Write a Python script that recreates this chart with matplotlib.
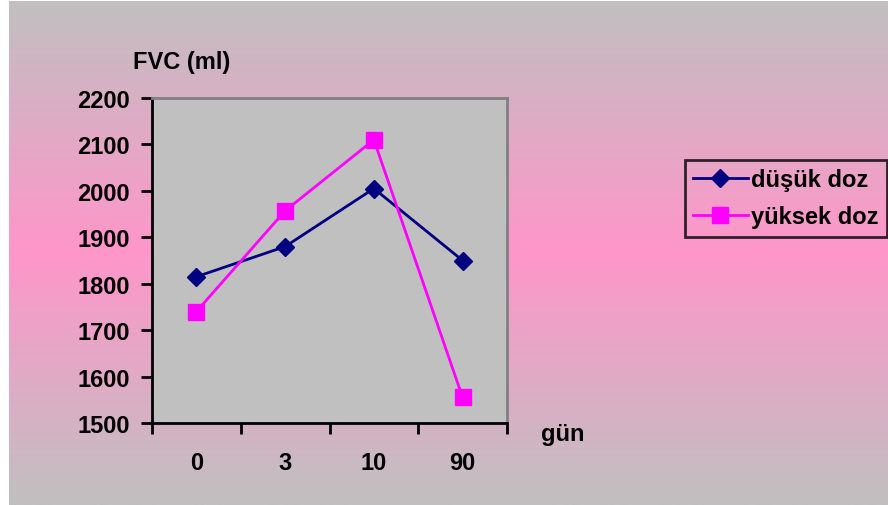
import numpy as np
import matplotlib
matplotlib.use("Agg")
import matplotlib.pyplot as plt
from matplotlib.lines import Line2D

plt.rcParams['font.family'] = ['Liberation Sans', 'DejaVu Sans']
plt.rcParams['font.weight'] = 'bold'

# FVC values per day
days = ['0', '3', '10', '90']
dusuk_doz = [1815, 1880, 2005, 1850]
yuksek_doz = [1740, 1957, 2110, 1555]
y_ticks = [1500, 1600, 1700, 1800, 1900, 2000, 2100, 2200]

W, H = 888, 506
fs = 17
fig = plt.figure(figsize=(W / 100, H / 100), dpi=100)

# background: gray -> pink -> gray vertical gradient, white strip on the left
gray = np.array([192, 192, 192]) / 255
pink = np.array([255, 150, 202]) / 255
t = np.abs(np.linspace(-1, 1, H))[:, None]
col = pink[None, :] * (1 - t) + gray[None, :] * t
bg = np.repeat(col[:, None, :], W, axis=1)
bg[:, :9] = 1.0
bg[:2, :] = 1.0
bax = fig.add_axes([0, 0, 1, 1], zorder=-10)
bax.imshow(bg, aspect='auto', extent=[0, W, H, 0])
bax.axis('off')

ax = fig.add_axes([152 / W, 1 - 424 / H, (507 - 152) / W, (424 - 99) / H])
ax.set_facecolor('#C0C0C0')
x = np.arange(len(days))
ax.plot(x, dusuk_doz, color='#000080', lw=2, marker='D', ms=9.5,
        mfc='#000080', mec='#000080', zorder=3)
ax.plot(x, yuksek_doz, color='#FF00FF', lw=2, marker='s', ms=11.5,
        mfc='#FF00FF', mec='#FF00FF', zorder=3)

ax.set_xlim(-0.5, 3.5)
ax.set_ylim(1500, 2200)
ax.set_yticks(y_ticks)
ax.set_yticklabels([str(v) for v in y_ticks])
ax.set_xticks(np.arange(-0.5, 4, 1))
ax.set_xticklabels([])
ax.set_xticks(x, minor=True)
ax.set_xticklabels(days, minor=True)
ax.tick_params(axis='x', which='major', direction='out', length=8, width=2)
ax.tick_params(axis='x', which='minor', length=0, pad=20, labelsize=fs)
ax.tick_params(axis='y', direction='out', length=8, width=2, pad=8, labelsize=fs)

for s in ['left', 'bottom']:
    ax.spines[s].set_color('black')
    ax.spines[s].set_linewidth(2)
for s in ['top', 'right']:
    ax.spines[s].set_color('#808080')
    ax.spines[s].set_linewidth(2)

fig.text(133 / W, 1 - 62 / H, 'FVC (ml)', fontsize=fs, fontweight='bold',
         ha='left', va='center')
fig.text(541 / W, 1 - 434 / H, 'gün', fontsize=fs, fontweight='bold',
         ha='left', va='center')

handles = [
    Line2D([], [], color='#000080', lw=2, marker='D', ms=9.5),
    Line2D([], [], color='#FF00FF', lw=2, marker='s', ms=11.5),
]
leg = fig.legend(handles, ['düşük doz', 'yüksek doz'], loc='upper left',
                 bbox_to_anchor=(685 / W, 1 - 161 / H), borderaxespad=0,
                 frameon=True, fancybox=False, fontsize=fs,
                 handlelength=2.3, handletextpad=0.15, borderpad=0.35,
                 labelspacing=0.6)
leg.get_frame().set_facecolor('none')
leg.get_frame().set_edgecolor('black')
leg.get_frame().set_linewidth(2)

fig.savefig('out.png', dpi=100)
